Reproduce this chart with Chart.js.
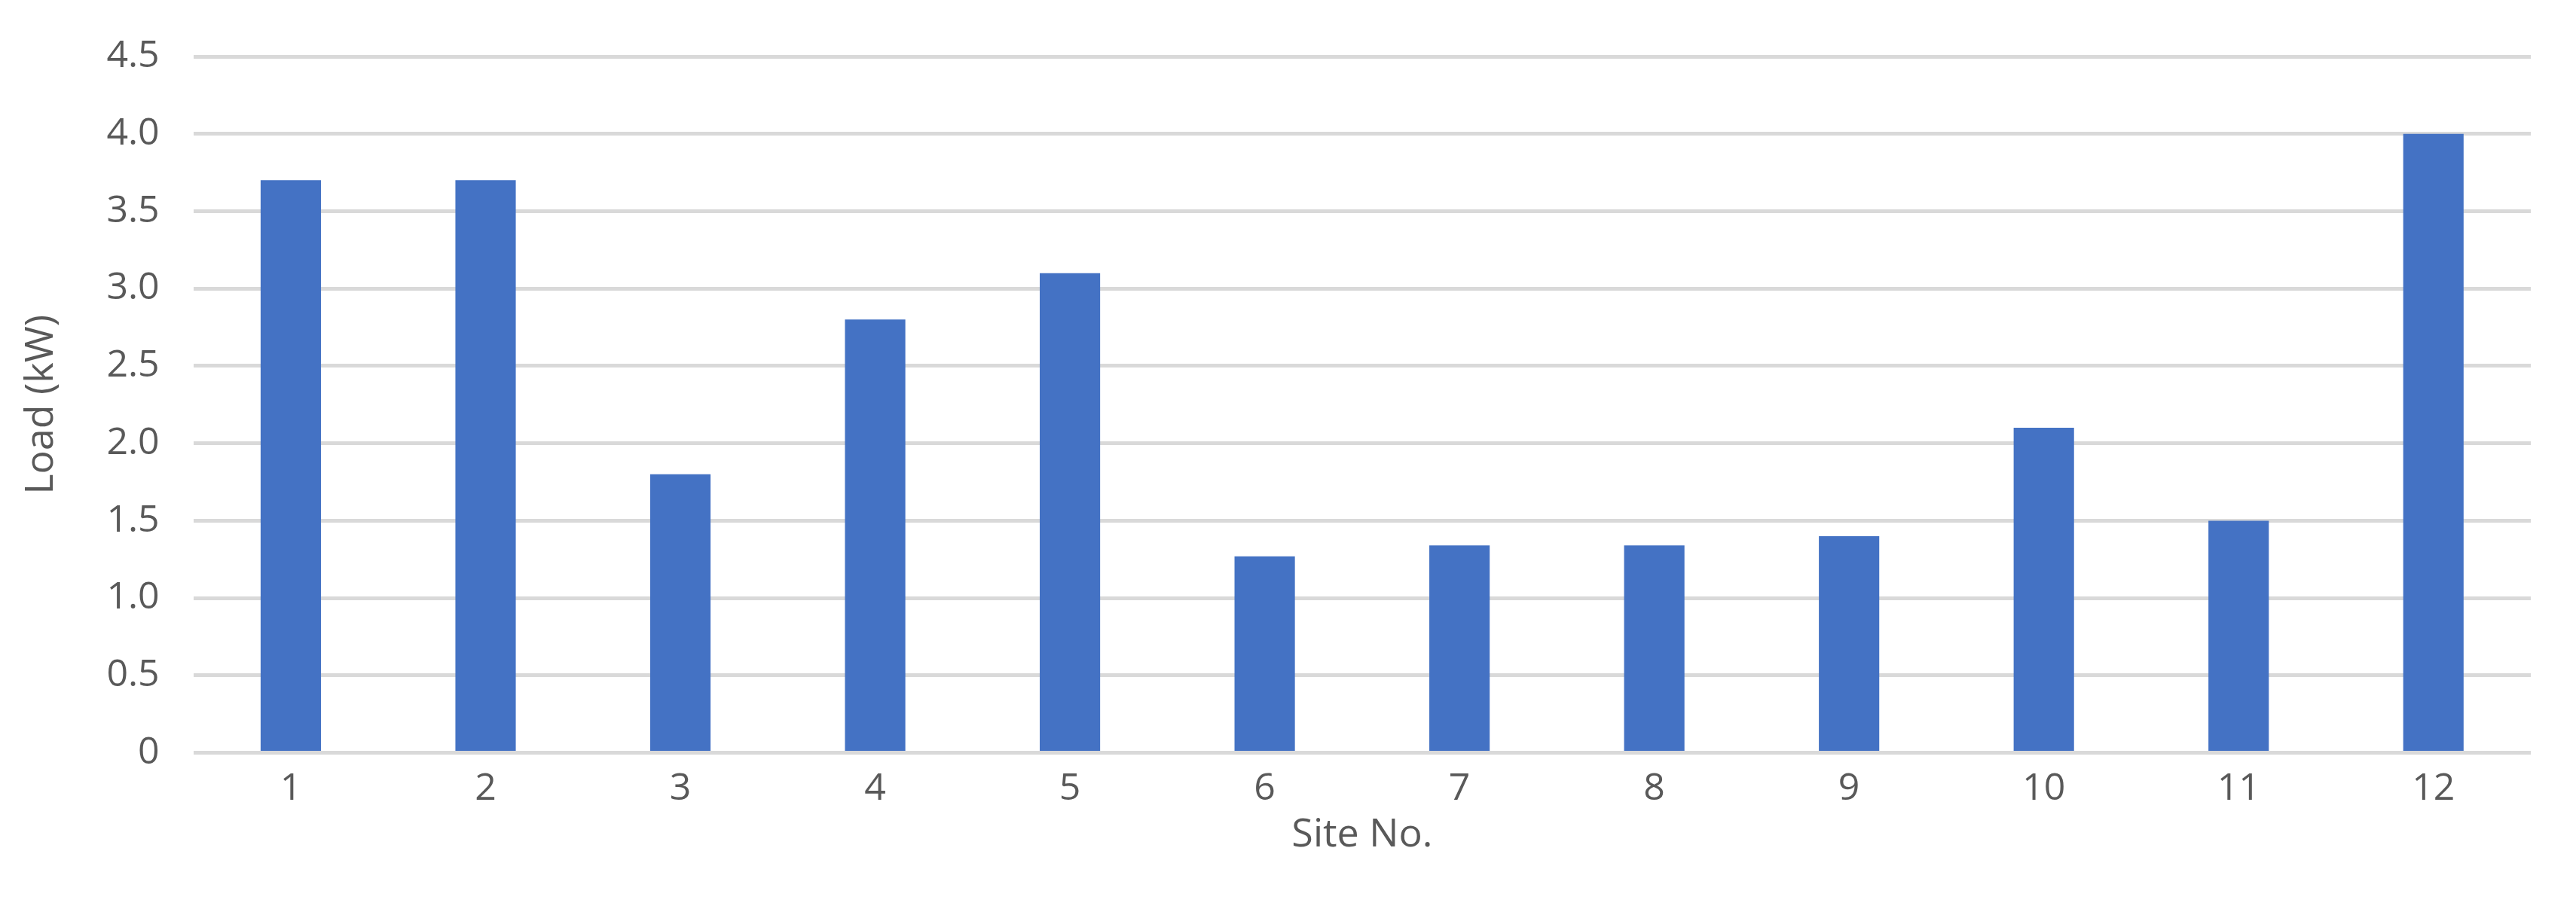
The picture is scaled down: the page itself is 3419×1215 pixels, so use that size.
<!DOCTYPE html>
<html><head><meta charset="utf-8">
<script src="https://cdn.jsdelivr.net/npm/chart.js@4/dist/chart.umd.min.js"></script>
<style>html,body{margin:0;padding:0;background:#fff}#w{width:3419px;height:1215px}</style>
</head><body><div id="w"><canvas id="c"></canvas></div>
<script>
const categories = ['1','2','3','4','5','6','7','8','9','10','11','12'];
const loadValues = [3.7, 3.7, 1.8, 2.8, 3.1, 1.27, 1.34, 1.34, 1.4, 2.1, 1.5, 4.0];
const yTicks = [0,0.5,1,1.5,2,2.5,3,3.5,4,4.5];
new Chart(document.getElementById('c'), {
  type: 'bar',
  data: { labels: categories, datasets: [{ data: loadValues, backgroundColor: '#4472c4', barPercentage: 0.31, categoryPercentage: 1 }] },
  options: {
    responsive: true, maintainAspectRatio: false, animation: false,
    layout: { padding: { top: 40, right: 60, bottom: 75, left: 20 } },
    plugins: { legend: { display: false }, tooltip: { enabled: false } },
    scales: {
      x: {
        grid: { display: false },
        border: { display: false },
        ticks: { color: '#595959', font: { family: 'Open Sans', size: 50 }, padding: 10 },
        title: { display: true, text: 'Site No.', color: '#595959', font: { family: 'Open Sans', size: 52 }, padding: { top: -10, bottom: 0 } }
      },
      y: {
        min: 0, max: 4.5,
        afterBuildTicks: a => { a.ticks = yTicks.map(v => ({ value: v })); },
        grid: { color: '#d9d9d9', lineWidth: 5, drawTicks: false },
        border: { display: false },
        ticks: { color: '#595959', font: { family: 'Open Sans', size: 50 }, padding: 45 },
        title: { display: true, text: 'Load (kW)', color: '#595959', font: { family: 'Open Sans', size: 52 }, padding: { bottom: 10 } }
      }
    }
  }
});
</script></body></html>
